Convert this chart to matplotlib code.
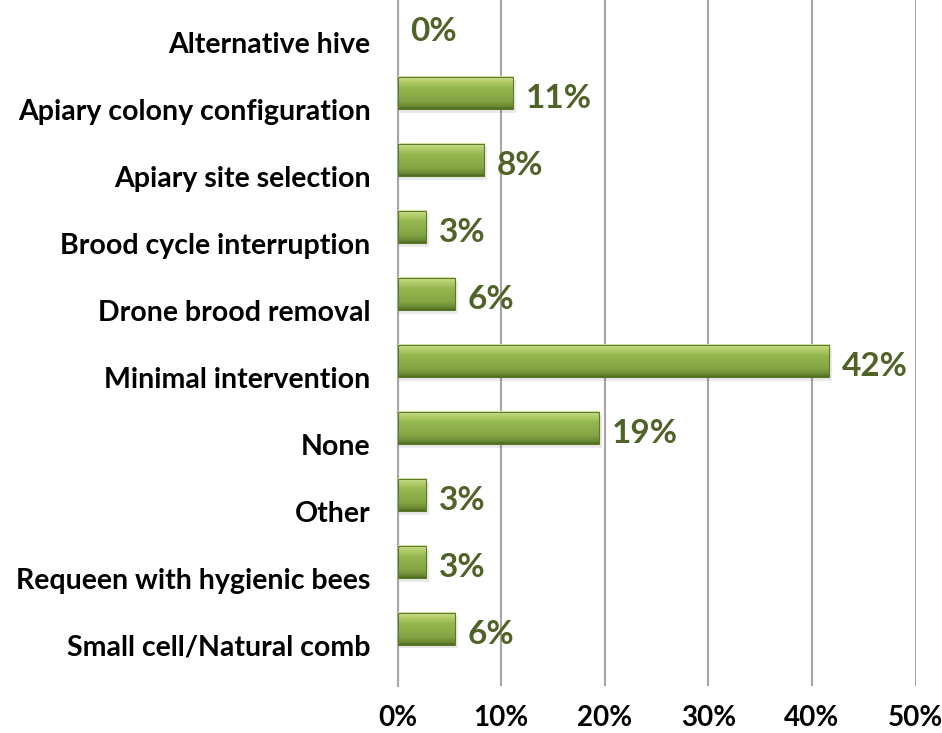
import matplotlib
matplotlib.use('Agg')
import matplotlib.pyplot as plt
from matplotlib.colors import LinearSegmentedColormap
import matplotlib.transforms as mtransforms
import numpy as np

categories = ['Alternative hive', 'Apiary colony configuration', 'Apiary site selection',
              'Brood cycle interruption', 'Drone brood removal', 'Minimal intervention',
              'None', 'Other', 'Requeen with hygienic bees', 'Small cell/Natural comb']
counts = [0, 4, 3, 1, 2, 15, 7, 1, 1, 2]
respondents = 36
shares = [100.0 * c / respondents for c in counts]
value_labels = ['0%', '11%', '8%', '3%', '6%', '42%', '19%', '3%', '3%', '6%']
xtick_values = [0, 10, 20, 30, 40, 50]
xtick_labels = ['0%', '10%', '20%', '30%', '40%', '50%']

plt.rcParams['font.family'] = ['Lato', 'DejaVu Sans']

fig = plt.figure(figsize=(9.42, 7.33), dpi=100)
ax = fig.add_axes([0.422, 0.0641, 0.550, 0.9359])

# bevelled green bars: gradient from light top to darker bottom
bevel = LinearSegmentedColormap.from_list('bevel', [
    (0.0, '#dbe9a8'), (0.12, '#b7d16f'), (0.35, '#95b74f'),
    (0.75, '#84a544'), (0.92, '#6b8a32'), (1.0, '#4e6a22')])
grad = np.linspace(0, 1, 64).reshape(-1, 1)
bar_h = 0.48
for i, v in enumerate(shares):
    if v <= 0:
        continue
    # soft shadow
    ax.barh(i + 0.05, v + 0.2, height=bar_h, left=0.1, color='#000000', alpha=0.08,
            zorder=2, linewidth=0)
    ax.imshow(grad, cmap=bevel, aspect='auto', interpolation='bilinear',
              extent=(0, v, i + bar_h / 2, i - bar_h / 2), zorder=3)
    ax.barh(i, v, height=bar_h, fill=False, edgecolor='#5d7a2a', linewidth=0.8, zorder=4)

for i, (v, lab) in enumerate(zip(shares, value_labels)):
    ax.text(v + 1.25, i + 0.08, lab, ha='left', va='center', fontsize=24,
            fontweight='bold', color='#4f6228', zorder=5)

ax.set_xlim(0, 50)
ax.set_ylim(9.85, -0.39)
ax.set_xticks(xtick_values)
ax.set_xticklabels(xtick_labels, fontsize=20, fontweight='bold')
ax.set_yticks(range(len(categories)))
ax.set_yticklabels(categories, fontsize=20.5, fontweight='bold')
ax.tick_params(axis='y', length=0, pad=19.5)
ax.tick_params(axis='x', length=0, pad=14)
offset = mtransforms.ScaledTranslation(0, -16 / 100, fig.dpi_scale_trans)
for lab in ax.get_yticklabels():
    lab.set_transform(lab.get_transform() + offset)

ax.grid(axis='x', color='#a6a6a6', linewidth=1.5, zorder=1)
ax.set_axisbelow(True)
for s in ['top', 'bottom']:
    ax.spines[s].set_visible(False)
ax.spines['left'].set_color('#a6a6a6')
ax.spines['left'].set_linewidth(1.5)
ax.spines['right'].set_visible(False)

fig.savefig('out.png', dpi=100, facecolor='white')
